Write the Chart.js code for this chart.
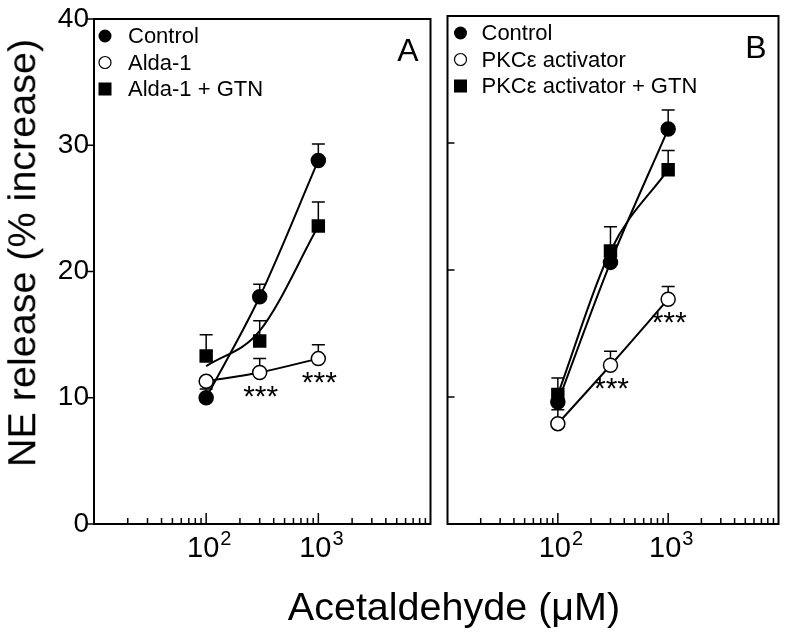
<!DOCTYPE html>
<html>
<head>
<meta charset="utf-8">
<script src="https://cdn.jsdelivr.net/npm/chart.js@4.4.1/dist/chart.umd.min.js"></script>
<style>
  body { margin: 0; background: #fff; width: 788px; height: 633px; position: relative; overflow: hidden;
         font-family: "Liberation Sans", Arial, sans-serif; }
  #canvasA { position: absolute; left: 0; top: 0; }
  #canvasB { position: absolute; left: 438px; top: 0; }
  .ytitle { position: absolute; left: 22px; top: 253px; font-size: 39.5px; line-height: 1; white-space: nowrap;
            transform: translate(-50%, -50%) rotate(-90deg); color: #000; }
  .xtitle { position: absolute; left: 454px; top: 587px; font-size: 39.5px; line-height: 1; white-space: nowrap;
            transform: translateX(-50%); color: #000; }
</style>
</head>
<body>
<canvas id="canvasA" width="440" height="633"></canvas>
<canvas id="canvasB" width="350" height="633"></canvas>
<div class="ytitle">NE release (% increase)</div>
<div class="xtitle">Acetaldehyde (μM)</div>
<script>
// acetaldehyde concentrations (uM) and axis ticks
const concentrations = [100, 300, 1000];
const xTickValues = [100, 1000];
const yTickValues = [0, 10, 20, 30, 40];

// panel A
const labelsA = ['Control', 'Alda-1', 'Alda-1 + GTN'];
const controlA = [10.0, 18.0, 28.8];
const controlAErr = [0.7, 1.0, 1.3];
const aldaA = [11.3, 12.0, 13.1];
const aldaAErr = [0, 1.1, 1.1];
const aldaGtnA = [13.3, 14.5, 23.6];
const aldaGtnAErr = [1.7, 1.6, 1.9];
const aldaGtnAFit = [12.5, 15.3, 23.6];   // fitted curve as drawn in the figure
const sigA = ['', '***', '***'];

// panel B
const labelsB = ['Control', 'PKCε activator', 'PKCε activator + GTN'];
const controlB = [9.6, 20.6, 31.1];
const controlBErr = [0, 0.5, 1.5];
const pkcB = [7.9, 12.5, 17.7];
const pkcBErr = [1.1, 1.1, 1.0];
const pkcGtnB = [10.2, 21.5, 27.9];
const pkcGtnBErr = [1.3, 1.9, 1.5];
const sigB = ['', '***', '***'];

const FONT = '"Liberation Sans", Arial, sans-serif';

function toPoints(ys) {
    return concentrations.map((x, i) => ({x: x, y: ys[i]}));
}

function series(label, ys, errs, marker, sig, fit) {
    let ds = {
        label: label,
        data: toPoints(ys),
        errors: errs,
        sig: sig || null,
        marker: marker,
        borderColor: '#000',
        borderWidth: 2,
        cubicInterpolationMode: 'monotone',
        showLine: !fit,
        fill: false,
        pointBorderColor: '#000',
        pointHoverRadius: 0
    };
    if (marker == 'square') {
        ds.pointStyle = 'rect';
        ds.pointRadius = 9.5;
        ds.pointBackgroundColor = '#000';
        ds.pointBorderWidth = 0;
    } else {
        ds.pointStyle = 'circle';
        ds.pointRadius = 7;
        ds.pointBackgroundColor = marker == 'open' ? '#fff' : '#000';
        ds.pointBorderWidth = 1.5;
    }
    return ds;
}

function fitLine(ys) {
    return {
        label: 'fit',
        data: toPoints(ys),
        errors: [],
        borderColor: '#000',
        borderWidth: 2,
        cubicInterpolationMode: 'monotone',
        fill: false,
        pointRadius: 0,
        pointHoverRadius: 0
    };
}

function drawMarker(ctx, marker, x, y) {
    ctx.save();
    ctx.strokeStyle = '#000';
    ctx.fillStyle = '#000';
    if (marker == 'square') {
        ctx.fillRect(x - 6.5, y - 6.5, 13, 13);
    } else {
        ctx.beginPath();
        ctx.arc(x, y, marker == 'open' ? 6 : 6.5, 0, Math.PI * 2);
        if (marker == 'open') {
            ctx.fillStyle = '#fff';
            ctx.fill();
            ctx.lineWidth = 1.2;
            ctx.stroke();
        } else {
            ctx.fill();
        }
    }
    ctx.restore();
}

const panelPlugin = {
    id: 'panel',
    beforeDatasetsDraw(chart) {
        // error bars (upper SEM)
        let ctx = chart.ctx;
        let xs = chart.scales.x, ys = chart.scales.y;
        ctx.save();
        ctx.strokeStyle = '#000';
        ctx.lineWidth = 1.5;
        chart.data.datasets.forEach(ds => {
            ds.data.forEach((p, i) => {
                let e = ds.errors[i];
                if (!e) return;
                let px = xs.getPixelForValue(p.x);
                let top = ys.getPixelForValue(p.y + e);
                let base = ys.getPixelForValue(p.y);
                ctx.beginPath();
                ctx.moveTo(px, base);
                ctx.lineTo(px, top);
                ctx.moveTo(px - 6.5, top);
                ctx.lineTo(px + 6.5, top);
                ctx.stroke();
            });
        });
        ctx.restore();
    },
    afterDraw(chart, args, opts) {
        let ctx = chart.ctx;
        let a = chart.chartArea;
        let xs = chart.scales.x, ys = chart.scales.y;
        ctx.save();
        ctx.strokeStyle = '#000';
        ctx.fillStyle = '#000';

        // frame
        ctx.lineWidth = 2;
        ctx.strokeRect(a.left, a.top, a.right - a.left, a.bottom - a.top);

        // y ticks
        ctx.lineWidth = 1.5;
        yTickValues.forEach(v => {
            let py = ys.getPixelForValue(v);
            ctx.beginPath();
            ctx.moveTo(a.left, py);
            ctx.lineTo(a.left + opts.yTickDir * 7, py);
            ctx.stroke();
        });

        // x ticks (log, pointing inwards)
        for (let d = 10; d < 10000; d *= 10) {
            for (let k = 1; k < 10; k++) {
                let v = k * d;
                if (v <= xs.min || v >= xs.max) continue;
                let px = xs.getPixelForValue(v);
                ctx.beginPath();
                ctx.moveTo(px, a.bottom);
                ctx.lineTo(px, a.bottom - (k == 1 ? 11 : 6));
                ctx.stroke();
            }
        }

        // x tick labels with superscript exponent
        xTickValues.forEach(v => {
            let px = xs.getPixelForValue(v);
            let exp = String(Math.round(Math.log10(v)));
            ctx.textBaseline = 'alphabetic';
            ctx.textAlign = 'left';
            ctx.font = '29px ' + FONT;
            let w = ctx.measureText('10').width;
            let x0 = px - w / 2 - 3;
            ctx.fillText('10', x0, a.bottom + 33);
            ctx.font = '20px ' + FONT;
            ctx.fillText(exp, x0 + w + 1, a.bottom + 21);
        });

        // legend
        ctx.font = '22px ' + FONT;
        ctx.textBaseline = 'middle';
        ctx.textAlign = 'left';
        chart.data.datasets.filter(ds => ds.marker).forEach((ds, i) => {
            let ly = a.top + 17 + i * 26.5;
            drawMarker(ctx, ds.marker, a.left + opts.legendMarkerX, ly);
            ctx.fillText(ds.label, a.left + 34, ly + 1);
        });

        // panel letter
        ctx.font = '32px ' + FONT;
        ctx.textAlign = 'right';
        ctx.textBaseline = 'alphabetic';
        ctx.fillText(opts.letter, a.right - 12, a.top + 42);

        // significance marks
        ctx.font = '30px ' + FONT;
        ctx.textAlign = 'center';
        chart.data.datasets.forEach(ds => {
            if (!ds.sig) return;
            ds.data.forEach((p, i) => {
                if (!ds.sig[i]) return;
                let px = xs.getPixelForValue(p.x);
                let py = ys.getPixelForValue(p.y);
                ctx.fillText(ds.sig[i], px + 1, py + 33);
            });
        });
        ctx.restore();
    }
};

function makeOptions(panel, padding, yWidth, showYLabels) {
    return {
        responsive: false,
        animation: false,
        layout: {padding: padding},
        plugins: {legend: {display: false}, tooltip: {enabled: false}, panel: panel},
        scales: {
            x: {
                type: 'logarithmic', min: 10, max: 10000,
                grid: {display: false, drawTicks: false},
                border: {display: false},
                ticks: {display: false},
                afterFit: s => { s.height = 109; }
            },
            y: {
                min: 0, max: 40,
                grid: {display: false, drawTicks: false},
                border: {display: false},
                afterBuildTicks: s => { s.ticks = yTickValues.map(v => ({value: v})); },
                ticks: {display: showYLabels, color: '#000', padding: 5,
                        font: {family: FONT, size: 28, lineHeight: 1}},
                afterFit: s => { s.width = yWidth; }
            }
        }
    };
}

new Chart(document.getElementById('canvasA').getContext('2d'), {
    type: 'line',
    data: {datasets: [
        series(labelsA[0], controlA, controlAErr, 'filled'),
        series(labelsA[1], aldaA, aldaAErr, 'open', sigA),
        series(labelsA[2], aldaGtnA, aldaGtnAErr, 'square', null, true),
        fitLine(aldaGtnAFit)
    ]},
    options: makeOptions({letter: 'A', yTickDir: -1, legendMarkerX: 11},
        {left: 0, right: 8, top: 16, bottom: 0}, 94, true),
    plugins: [panelPlugin]
});

new Chart(document.getElementById('canvasB').getContext('2d'), {
    type: 'line',
    data: {datasets: [
        series(labelsB[0], controlB, controlBErr, 'filled'),
        series(labelsB[1], pkcB, pkcBErr, 'open', sigB),
        series(labelsB[2], pkcGtnB, pkcGtnBErr, 'square')
    ]},
    options: makeOptions({letter: 'B', yTickDir: 1, legendMarkerX: 13},
        {left: 7, right: 6, top: 16, bottom: 0}, 0, false),
    plugins: [panelPlugin]
});
</script>
</body>
</html>
